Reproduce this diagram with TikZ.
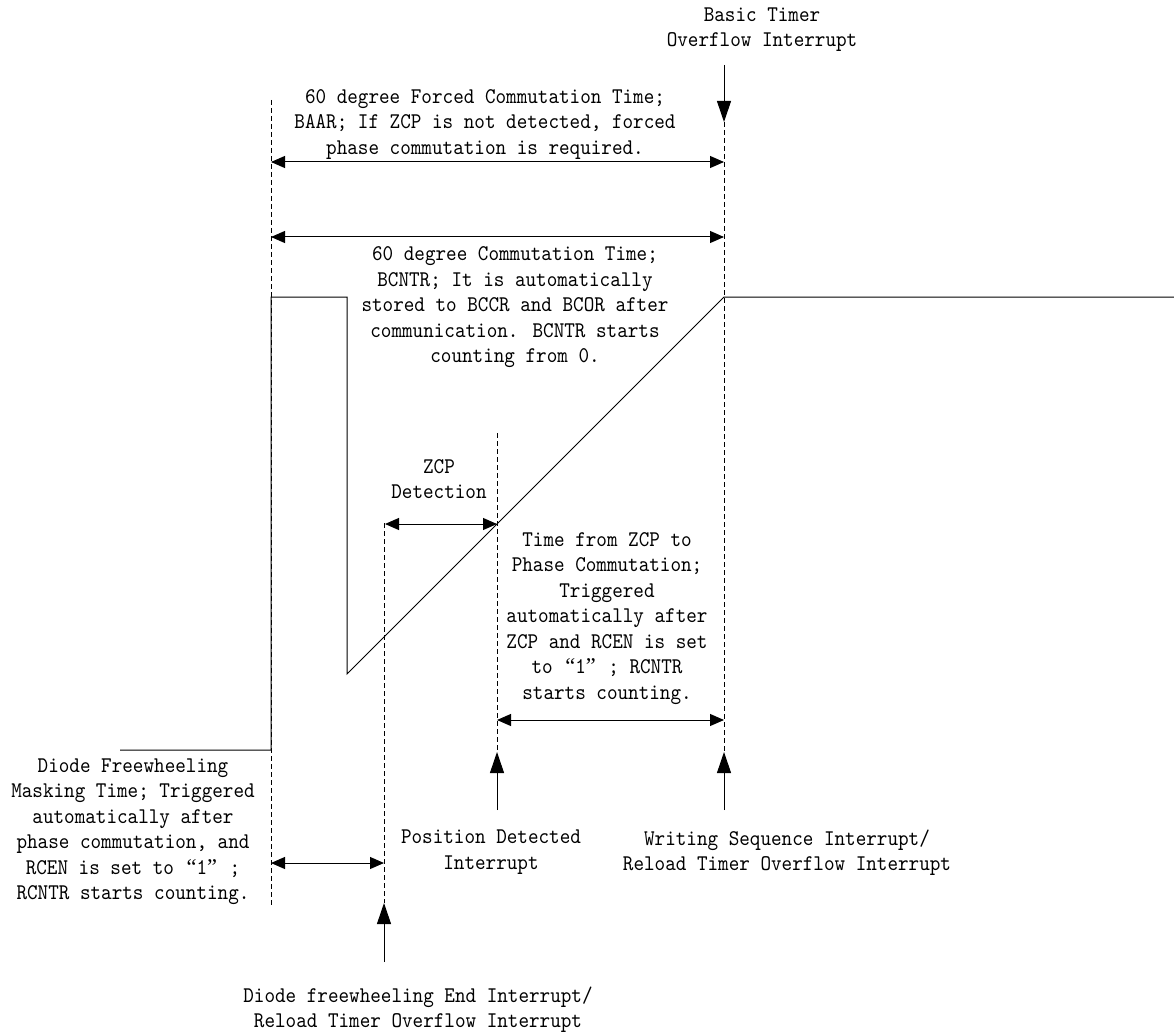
\documentclass[tikz,border=0pt]{standalone}
\usepackage{fontspec}
\newfontfamily\lblfont{lmmono10-regular.otf}[FakeStretch=0.9]
\newfontfamily\qfont{Liberation Serif}
\newcommand{\qone}{{\qfont\kern2pt“}1{\qfont”\kern2pt}}
\usetikzlibrary{arrows.meta}
\tikzset{
  lbl/.style={font=\lblfont\fontsize{22.4}{25.5}\selectfont, align=center, inner sep=0pt},
  guide/.style={dash pattern=on 5pt off 3pt, line width=0.9pt},
  dimarrow/.style={{Triangle[length=14pt,width=12pt]}-{Triangle[length=14pt,width=12pt]}, line width=1pt},
  irq/.style={-{Triangle[length=21pt,width=14pt]}, line width=1pt},
  wave/.style={line width=1pt, line join=miter}
}
\begin{document}
\begin{tikzpicture}[x=1pt,y=-1pt]
\useasboundingbox (0,0) rectangle (1174,1032);
% guide coordinates
\coordinate (A1) at (271,100); \coordinate (A2) at (271,907);
\coordinate (B1) at (384,523); \coordinate (B2) at (384,903);
\coordinate (C1) at (497,433); \coordinate (C2) at (497,752);
\coordinate (D1) at (724,122); \coordinate (D2) at (724,752);
% interrupt arrow starts
\coordinate (bt0) at (724,65);
\coordinate (de0) at (384,962);
\coordinate (pd0) at (497,810);
\coordinate (ws0) at (724,810);
% dimension ends
\coordinate (d1l) at (271,162); \coordinate (d1r) at (724,162);
\coordinate (d2l) at (271,237); \coordinate (d2r) at (724,237);
\coordinate (zl) at (385,524);  \coordinate (zr) at (497,524);
\coordinate (tl) at (497,720);  \coordinate (tr) at (724,720);
\coordinate (ml) at (271,863);  \coordinate (mr) at (384,863);
% waveform
\coordinate (w0) at (120,750); \coordinate (w1) at (271,750);
\coordinate (w2) at (271,297); \coordinate (w3) at (347,297);
\coordinate (w4) at (347,674); \coordinate (w5) at (724,297);
\coordinate (w6) at (1174,297);

% guides
\draw[guide] (A1) -- (A2);
\draw[guide] (B1) -- (B2);
\draw[guide] (C1) -- (C2);
\draw[guide] (D1) -- (D2);

% waveform
\draw[wave] (w0) -- (w1) -- (w2) -- (w3) -- (w4) -- (w5) -- (w6);

% interrupt arrows
\draw[irq] (bt0) -- (D1);
\draw[irq] (de0) -- (B2);
\draw[irq] (pd0) -- (C2);
\draw[irq] (ws0) -- (D2);

% dimension arrows
\draw[dimarrow] (d1l) -- (d1r);
\draw[dimarrow] (d2l) -- (d2r);
\draw[dimarrow] (zl) -- (zr);
\draw[dimarrow] (tl) -- (tr);
\draw[dimarrow] (ml) -- (mr);

% labels
\node[lbl] (basic) at (762,29.5) {Basic Timer\\Overflow Interrupt};
\node[lbl] (forced) at (485,124.5) {60 degree Forced Commutation Time;\\BAAR; If ZCP is not detected, forced\\phase commutation is required.};
\node[lbl] (comm) at (515,307.5) {60 degree Commutation Time;\\BCNTR; It is automatically\\stored to BCCR and BCOR after\\communication. BCNTR starts\\counting from 0.};
\node[lbl] (zcp) at (439,479) {ZCP\\Detection};
\node[lbl] (tzcp) at (607,618.5) {Time from ZCP to\\Phase Commutation;\\Triggered\\automatically after\\ZCP and RCEN is set\\to \qone{} ; RCNTR\\starts counting.};
\node[lbl] (mask) at (133,831.5) {Diode Freewheeling\\Masking Time; Triggered\\automatically after\\phase commutation, and\\RCEN is set to \qone{} ;\\RCNTR starts counting.};
\node[lbl] (pos) at (491,852) {Position Detected\\Interrupt};
\node[lbl] (wsi) at (787,852.5) {Writing Sequence Interrupt/\\Reload Timer Overflow Interrupt};
\node[lbl] (dfe) at (418,1009.5) {Diode freewheeling End Interrupt/\\Reload Timer Overflow Interrupt};
\end{tikzpicture}
\end{document}
